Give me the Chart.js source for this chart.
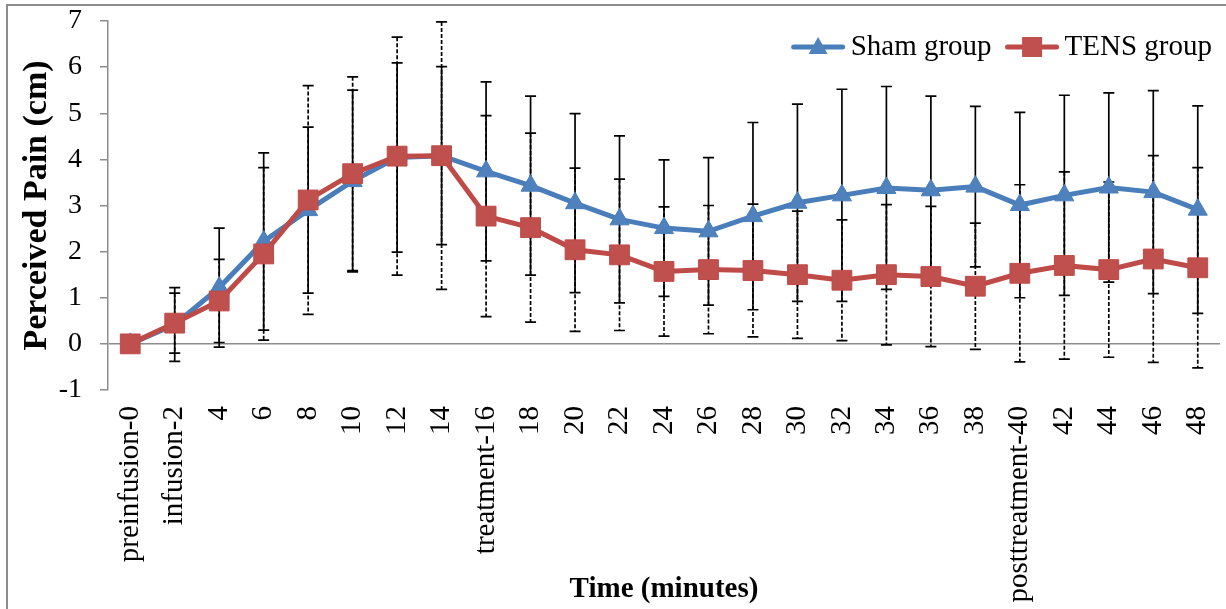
<!DOCTYPE html>
<html>
<head>
<meta charset="utf-8">
<script src="https://cdn.jsdelivr.net/npm/chart.js@4.4.0/dist/chart.umd.min.js"></script>
<style>
  html, body { margin: 0; padding: 0; background: #fff; overflow: hidden; }
  #frame { position: absolute; left: 6px; top: 4px; width: 1300px; height: 700px; border: 2px solid #8c8c8c; }
  #wrap { position: absolute; left: 0; top: 0; width: 1226px; height: 609px; }
</style>
</head>
<body>
<div id="frame"></div>
<div id="wrap"><canvas id="chart"></canvas></div>
<script>
'use strict';

const timeLabels = ['preinfusion-0', 'infusion-2', '4', '6', '8', '10', '12', '14',
  'treatment-16', '18', '20', '22', '24', '26', '28', '30', '32', '34', '36', '38',
  'posttreatment-40', '42', '44', '46', '48'];

const shamMeans = [0, 0.42, 1.22, 2.22, 2.9, 3.53, 4.04, 4.08, 3.74, 3.43, 3.05, 2.7, 2.51,
  2.44, 2.77, 3.06, 3.22, 3.38, 3.33, 3.41, 3.01, 3.22, 3.39, 3.29, 2.91];
const shamSD = [0, 0.8, 1.29, 1.92, 1.8, 1.97, 2.05, 1.93, 1.94, 1.94, 1.94, 1.81, 1.48,
  1.6, 2.03, 2.14, 2.3, 2.2, 2.04, 1.74, 2.01, 2.17, 2.05, 2.2, 2.25];

const tensMeans = [0, 0.45, 0.93, 1.95, 3.12, 3.69, 4.07, 4.08, 2.77, 2.52, 2.04, 1.93, 1.57,
  1.61, 1.59, 1.5, 1.38, 1.5, 1.46, 1.25, 1.53, 1.7, 1.61, 1.84, 1.65];
const tensSD = [0, 0.65, 0.9, 1.87, 2.48, 2.1, 2.58, 2.9, 2.18, 2.05, 1.77, 1.64, 1.4,
  1.39, 1.44, 1.38, 1.31, 1.52, 1.52, 1.37, 1.92, 2.03, 1.9, 2.24, 2.17];

const yMin = -1;
const yMax = 7;
const yStep = 1;

const shamColor = '#4a7ebb';
const tensColor = '#be4b48';
const axisGray = '#8c8c8c';
const serif = "'Liberation Serif', 'Times New Roman', serif";

Chart.defaults.font.family = serif;
Chart.defaults.color = '#000';

// error bars (+/- SD) drawn from each dataset's errorBars array
const errorBarPlugin = {
  id: 'errorBars',
  beforeDatasetsDraw(chart) {
    const ctx = chart.ctx;
    const x = chart.scales.x;
    const y = chart.scales.y;
    // dashed ones first so the solid ones sit on top
    const order = [1, 0];
    for (let d of order) {
      const ds = chart.data.datasets[d];
      ctx.save();
      ctx.strokeStyle = '#000';
      ctx.lineWidth = 1.7;
      for (let i = 0; i < ds.data.length; i++) {
        const sd = ds.errorBars[i];
        if (!sd) continue;
        const px = x.getPixelForValue(i);
        const top = y.getPixelForValue(ds.data[i] + sd);
        const bot = y.getPixelForValue(ds.data[i] - sd);
        ctx.setLineDash(ds.errorDash);
        ctx.beginPath();
        ctx.moveTo(px, top);
        ctx.lineTo(px, bot);
        ctx.stroke();
        ctx.setLineDash([]);
        ctx.beginPath();
        ctx.moveTo(px - 5.5, top);
        ctx.lineTo(px + 5.5, top);
        ctx.moveTo(px - 5.5, bot);
        ctx.lineTo(px + 5.5, bot);
        ctx.stroke();
      }
      ctx.restore();
    }
  }
};

// excel style legend: line with marker, then the name, top right of the plot
const lineLegendPlugin = {
  id: 'lineLegend',
  afterDraw(chart) {
    const ctx = chart.ctx;
    const area = chart.chartArea;
    const cy = area.top + 26;
    let right = area.right - 8;
    ctx.save();
    ctx.font = '29px ' + serif;
    ctx.textBaseline = 'middle';
    ctx.textAlign = 'left';
    const sets = chart.data.datasets.slice().reverse();
    for (let ds of sets) {
      const tw = ctx.measureText(ds.label).width;
      const textX = right - tw;
      ctx.fillStyle = '#000';
      ctx.fillText(ds.label, textX, cy);
      const x1 = textX - 6;
      const x0 = x1 - 53;
      const cx = (x0 + x1) / 2;
      ctx.strokeStyle = ds.borderColor;
      ctx.lineWidth = 5;
      ctx.lineCap = 'round';
      ctx.beginPath();
      ctx.moveTo(x0 + 2, cy);
      ctx.lineTo(x1 - 2, cy);
      ctx.stroke();
      ctx.fillStyle = ds.pointBackgroundColor;
      ctx.beginPath();
      if (ds.pointStyle === 'triangle') {
        ctx.moveTo(cx, cy - 10);
        ctx.lineTo(cx + 9.5, cy + 7);
        ctx.lineTo(cx - 9.5, cy + 7);
        ctx.closePath();
      } else {
        ctx.rect(cx - 10, cy - 10, 20, 20);
      }
      ctx.fill();
      right = x0 - 14;
    }
    ctx.restore();
  }
};

new Chart(document.getElementById('chart'), {
  type: 'line',
  data: {
    labels: timeLabels,
    datasets: [{
      label: 'Sham group',
      data: shamMeans,
      errorBars: shamSD,
      errorDash: [],
      order: 1,
      borderColor: shamColor,
      backgroundColor: shamColor,
      borderWidth: 5,
      pointStyle: 'triangle',
      pointRadius: 11,
      pointHoverRadius: 11,
      pointBackgroundColor: '#4f81bd',
      pointBorderColor: shamColor,
      pointBorderWidth: 1,
      tension: 0
    },
    {
      label: 'TENS group',
      data: tensMeans,
      errorBars: tensSD,
      errorDash: [4, 2],
      order: 0,
      borderColor: tensColor,
      backgroundColor: tensColor,
      borderWidth: 5,
      pointStyle: 'rect',
      pointRadius: 14,
      pointHoverRadius: 14,
      pointBackgroundColor: '#c0504d',
      pointBorderColor: tensColor,
      pointBorderWidth: 1,
      tension: 0
    }]
  },
  options: {
    responsive: true,
    maintainAspectRatio: false,
    animation: false,
    layout: { autoPadding: false, padding: { left: 0, top: 21, right: 6, bottom: 0 } },
    plugins: {
      tooltip: { enabled: false },
      legend: { display: false }
    },
    scales: {
      x: {
        offset: true,
        grid: { display: false, drawTicks: false },
        border: { display: false },
        ticks: {
          autoSkip: false,
          minRotation: 90,
          maxRotation: 90,
          padding: 16,
          font: { size: 29 }
        },
        title: {
          display: true,
          text: 'Time (minutes)',
          font: { size: 29, weight: 'bold' },
          padding: { top: 0, bottom: 2 }
        },
        afterFit: (scale) => {
          scale.height = 219;
          scale.paddingLeft = 0;
          scale.paddingRight = 0;
        }
      },
      y: {
        min: yMin,
        max: yMax,
        ticks: { stepSize: yStep, padding: 18, font: { size: 28 } },
        grid: {
          color: (c) => (c.tick && c.tick.value === 0 ? axisGray : 'transparent'),
          tickColor: axisGray,
          tickLength: 8,
          lineWidth: 1.5
        },
        border: { color: axisGray, width: 1.5 },
        title: {
          display: true,
          text: 'Perceived Pain (cm)',
          font: { size: 34, weight: 'bold' },
          padding: { top: 17, bottom: 0 }
        },
        afterFit: (scale) => {
          scale.width = 108;
          scale.paddingTop = 0;
          scale.paddingBottom = 0;
        }
      }
    }
  },
  plugins: [errorBarPlugin, lineLegendPlugin]
});
</script>
</body>
</html>
